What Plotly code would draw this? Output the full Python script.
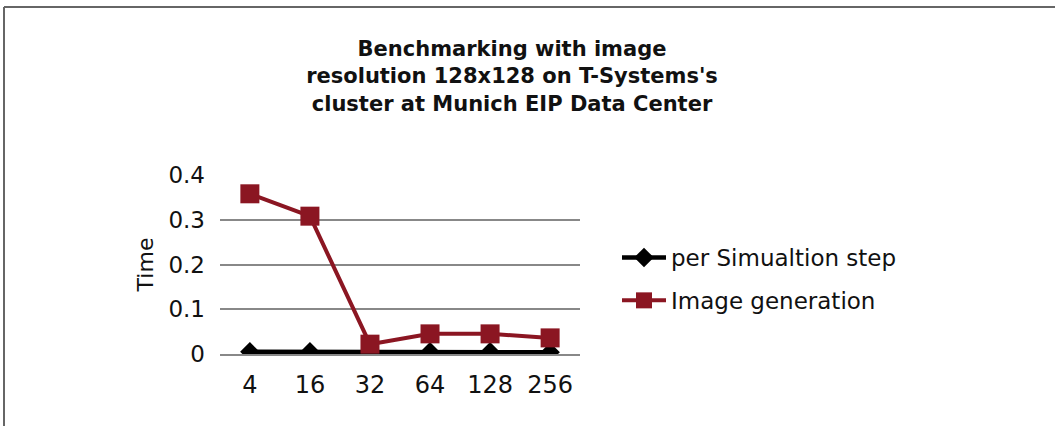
import plotly.graph_objects as go

categories = ["4", "16", "32", "64", "128", "256"]
per_sim_step = [0.005, 0.005, 0.004, 0.005, 0.005, 0.004]
image_generation = [0.358, 0.308, 0.022, 0.045, 0.045, 0.036]
y_ticks = [0, 0.1, 0.2, 0.3, 0.4]
y_tick_labels = ["0", "0.1", "0.2", "0.3", "0.4"]

FONT = "DejaVu Sans"
L, R, T, B = 220, 475, 175, 72
W, H = 1055, 426
pw, ph = W - L - R, H - T - B

def px_x(p):
    return (p - L) / pw

def px_y(p):
    return (H - B - p) / ph

fig = go.Figure()
fig.add_trace(go.Scatter(
    x=categories, y=per_sim_step, name="per Simualtion step",
    mode="lines+markers",
    line=dict(color="#000000", width=4.5),
    marker=dict(symbol="diamond", size=15, color="#000000"),
    legendgroup="a",
))
fig.add_trace(go.Scatter(
    x=categories, y=image_generation, name="Image generation",
    mode="lines+markers",
    line=dict(color="#8b1622", width=4),
    marker=dict(symbol="square", size=19, color="#8b1622"),
    legendgroup="b",
))

fig.update_layout(
    width=W, height=H,
    margin=dict(l=L, r=R, t=T, b=B),
    paper_bgcolor="white", plot_bgcolor="white",
    hovermode=False,
    font=dict(family=FONT, color="#111111"),
    title=dict(
        text="<b>Benchmarking with image<br>resolution 128x128 on T-Systems's<br>cluster at Munich EIP Data Center</b>",
        x=512 / W, xref="container", xanchor="center",
        y=1 - 56 / H, yref="container", yanchor="top",
        font=dict(family=FONT, size=21, color="#111111"),
    ),
    showlegend=True,
    legend=dict(
        x=px_x(617), y=px_y(236), xanchor="left", yanchor="top",
        font=dict(family=FONT, size=23, color="#111111"),
        tracegroupgap=10, itemwidth=44, bgcolor="rgba(0,0,0,0)",
    ),
    xaxis=dict(
        type="category", showgrid=False, showline=True, linecolor="#888888", linewidth=2,
        ticks="", tickfont=dict(family=FONT, size=24, color="#111111"),
        ticklabelstandoff=8, zeroline=False, fixedrange=True,
    ),
    yaxis=dict(
        range=[0, 0.4], tickvals=y_ticks, ticktext=y_tick_labels,
        showgrid=True, gridcolor="#888888", gridwidth=2,
        showline=False, zeroline=False, ticks="",
        tickfont=dict(family=FONT, size=23, color="#111111"),
        ticklabelstandoff=14,
        title=dict(text="Time", font=dict(family=FONT, size=22, color="#111111"), standoff=8),
    ),
    shapes=[
        dict(type="line", xref="paper", yref="paper",
             x0=px_x(4), x1=px_x(1060), y0=px_y(7), y1=px_y(7),
             line=dict(color="#666666", width=2)),
        dict(type="line", xref="paper", yref="paper",
             x0=px_x(4), x1=px_x(4), y0=px_y(7), y1=px_y(430),
             line=dict(color="#666666", width=2)),
    ],
)

fig.write_html("out.html", config={"displayModeBar": False},
               post_script="document.body.style.margin='0';")
